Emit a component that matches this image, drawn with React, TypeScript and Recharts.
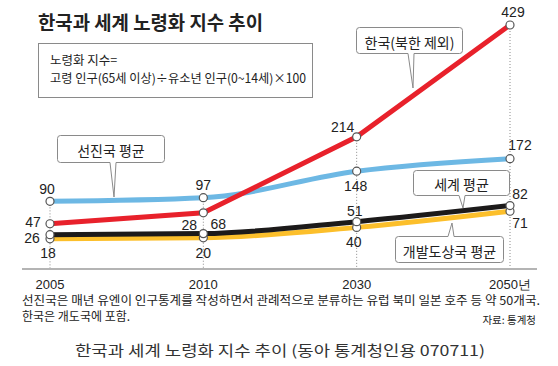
import { LineChart, Line, XAxis, YAxis, LabelList, ReferenceLine } from 'recharts';

const YEARS = ['2005', '2010', '2030', '2050년'];
const KOREA = [47, 68, 214, 429];
const DEVELOPED = [90, 97, 148, 172];
const WORLD = [26, 28, 51, 82];
const DEVELOPING = [18, 20, 40, 71];
const Y_MIN = -40;
const Y_MAX = 429;

const data = YEARS.map((year, i) => ({
  year,
  korea: KOREA[i],
  developed: DEVELOPED[i],
  world: WORLD[i],
  developing: DEVELOPING[i],
}));

// label offsets [dx, dy] relative to each point
const KOREA_OFF = [[-17, -2], [15, 11], [-14, -10], [3, -13]];
const DEVELOPED_OFF = [[-3, -12], [0, -13], [-1, 15], [10, -14]];
const WORLD_OFF = [[-18, 3], [-14, -9], [-2, -11], [10, -12]];
const DEVELOPING_OFF = [[-2, 14], [0, 15], [-3, 15], [10, 12]];

const KR = '"Noto Sans CJK KR", "Noto Sans", sans-serif';
const NUM = '"Liberation Sans", Arial, sans-serif';

const makeLabel = (offsets: number[][]) => (props: any) => {
  const { x, y, value, index } = props;
  const [dx, dy] = offsets[index] || [0, 0];
  return (
    <text
      x={x + dx}
      y={y + dy}
      textAnchor="middle"
      dominantBaseline="central"
      fontFamily={NUM}
      fontSize={14}
      fill="#222"
    >
      {value}
    </text>
  );
};

const Tick = (props: any) => {
  const { x, y, payload } = props;
  return (
    <text x={x} y={y + 12} textAnchor="middle" fontFamily={NUM} fontSize={13} fill="#222">
      {payload.value}
    </text>
  );
};

const DOT = { r: 4, fill: '#fff', stroke: '#555', strokeWidth: 1.2 };

function Callout({ x, y, w, h, bx, tx, ty, label, up }: any) {
  const r = 3;
  const b0 = bx - 3;
  const b1 = bx + 3;
  let d: string;
  if (!up) {
    d = `M${x + r},${y} H${x + w - r} Q${x + w},${y} ${x + w},${y + r} V${y + h - r} Q${x + w},${y + h} ${x + w - r},${y + h} H${b1} L${tx},${ty} L${b0},${y + h} H${x + r} Q${x},${y + h} ${x},${y + h - r} V${y + r} Q${x},${y} ${x + r},${y} Z`;
  } else {
    d = `M${x + r},${y} H${b0} L${tx},${ty} L${b1},${y} H${x + w - r} Q${x + w},${y} ${x + w},${y + r} V${y + h - r} Q${x + w},${y + h} ${x + w - r},${y + h} H${x + r} Q${x},${y + h} ${x},${y + h - r} V${y + r} Q${x},${y} ${x + r},${y} Z`;
  }
  return (
    <g>
      <path d={d} fill="#fff" stroke="#8a8a8a" strokeWidth={1} />
      <text
        x={x + w / 2}
        y={y + h / 2 + 1}
        textAnchor="middle"
        dominantBaseline="central"
        fontFamily={KR}
        fontSize={14}
        fill="#222"
      >
        {label}
      </text>
    </g>
  );
}

export default function App() {
  return (
    <div style={{ position: 'absolute', left: 0, top: 0, width: 558, height: 366, background: '#fff' }}>
      <LineChart width={558} height={366} data={data} margin={{ top: 25, right: 21, bottom: 77, left: 22 }}>
        <XAxis
          dataKey="year"
          padding={{ left: 28, right: 27 }}
          axisLine={{ stroke: '#b4b4b4', strokeWidth: 2 }}
          tickLine={false}
          tick={<Tick />}
          height={20}
          interval={0}
        />
        <YAxis hide domain={[Y_MIN, Y_MAX]} />
        {YEARS.map((yr, i) => (
          <ReferenceLine
            key={yr}
            segment={[
              { x: yr, y: Math.max(KOREA[i], DEVELOPED[i], WORLD[i], DEVELOPING[i]) },
              { x: yr, y: Y_MIN },
            ]}
            stroke="#8c8c8c"
            strokeDasharray="1 2"
          />
        ))}
        <Line dataKey="developing" type="monotone" stroke="#fcbf2b" strokeWidth={5} dot={DOT} isAnimationActive={false}>
          <LabelList dataKey="developing" content={makeLabel(DEVELOPING_OFF)} />
        </Line>
        <Line dataKey="world" type="monotone" stroke="#1c1a1a" strokeWidth={5} dot={DOT} isAnimationActive={false}>
          <LabelList dataKey="world" content={makeLabel(WORLD_OFF)} />
        </Line>
        <Line dataKey="developed" type="monotone" stroke="#6db8e4" strokeWidth={5} dot={DOT} isAnimationActive={false}>
          <LabelList dataKey="developed" content={makeLabel(DEVELOPED_OFF)} />
        </Line>
        <Line dataKey="korea" type="linear" stroke="#e8212b" strokeWidth={5} dot={DOT} isAnimationActive={false}>
          <LabelList dataKey="korea" content={makeLabel(KOREA_OFF)} />
        </Line>
      </LineChart>
      <svg width={558} height={366} style={{ position: 'absolute', left: 0, top: 0, pointerEvents: 'none' }}>
        <text x={38} y={30} fontFamily={KR} fontWeight="bold" fontSize={19} fill="#222" textLength={225} lengthAdjust="spacingAndGlyphs">
          한국과 세계 노령화 지수 추이
        </text>
        <rect x={38.5} y={43.5} width={274} height={54} fill="#fff" stroke="#8a8a8a" />
        <text x={50} y={65} fontFamily={KR} fontSize={12.5} fill="#222">
          노령화 지수=
        </text>
        <text x={50} y={83} fontFamily={KR} fontSize={12.5} fill="#222" textLength={256} lengthAdjust="spacingAndGlyphs">
          고령 인구(65세 이상)÷유소년 인구(0~14세)×100
        </text>
        <Callout x={356.5} y={27.5} w={106} h={26} bx={411} tx={413} ty={88} label="한국(북한 제외)" />
        <Callout x={57.5} y={135.5} w={107} h={27} bx={113} tx={114} ty={197} label="선진국 평균" />
        <Callout x={413.5} y={170.5} w={96} h={25} bx={462} tx={463} ty={208} label="세계 평균" />
        <Callout x={395.5} y={236.5} w={108} h={26} bx={451} tx={452} ty={223} label="개발도상국 평균" up />
        <text x={22} y={305} fontFamily={KR} fontSize={12} fill="#222" textLength={518} lengthAdjust="spacingAndGlyphs">
          선진국은 매년 유엔이 인구통계를 작성하면서 관례적으로 분류하는 유럽 북미 일본 호주 등 약 50개국.
        </text>
        <text x={22} y={321} fontFamily={KR} fontSize={12} fill="#222">
          한국은 개도국에 포함.
        </text>
        <text x={536} y={324} textAnchor="end" fontFamily={KR} fontSize={10.5} fill="#222">
          자료: 통계청
        </text>
        <text x={280} y={356} textAnchor="middle" fontFamily={KR} fontSize={14.5} fill="#333" textLength={410} lengthAdjust="spacingAndGlyphs">
          한국과 세계 노령화 지수 추이 (동아 통계청인용 070711)
        </text>
      </svg>
    </div>
  );
}
